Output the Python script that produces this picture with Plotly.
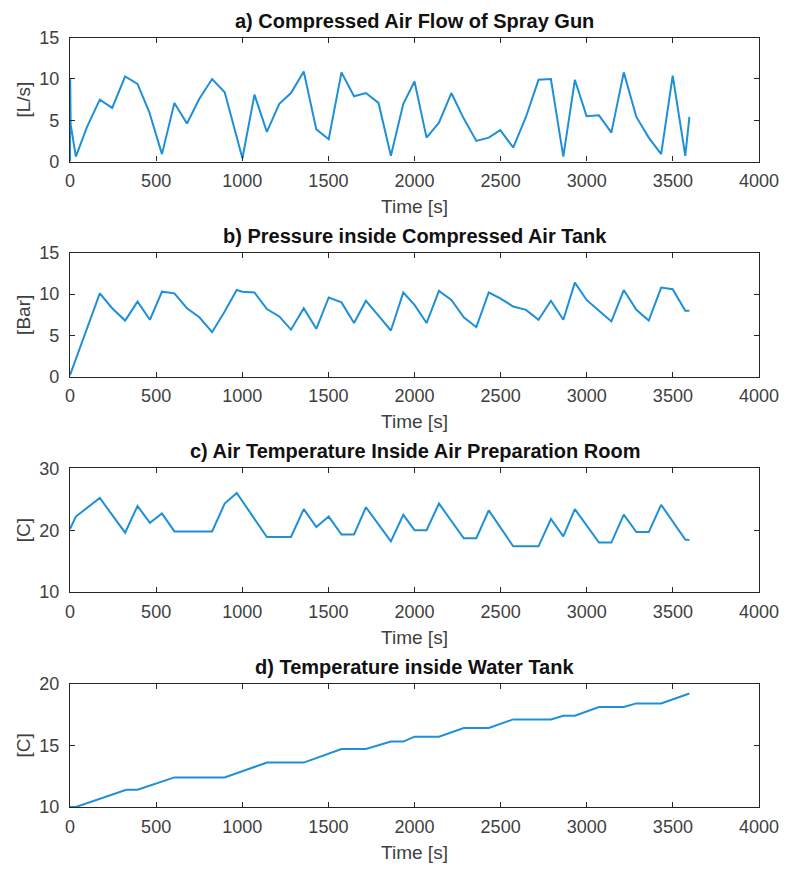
import plotly.graph_objects as go

# ---- data ----
time_a = [0, 1, 4, 34, 99, 173, 245, 320, 392, 460, 534, 606, 679, 751, 825, 898, 1001,
          1071, 1143, 1215, 1283, 1357, 1430, 1502, 1576, 1649, 1718, 1791, 1863, 1935,
          2000, 2070, 2142, 2214, 2286, 2359, 2431, 2498, 2573, 2647, 2720, 2792, 2864,
          2931, 2999, 3071, 3143, 3215, 3288, 3360, 3432, 3499, 3572, 3596]
air_flow = [0.0, 10.0, 4.5, 0.6, 4.2, 7.5, 6.5, 10.3, 9.4, 6.0, 0.9, 7.1, 4.6, 7.6, 10.0, 8.4, 0.4,
            8.1, 3.6, 7.0, 8.3, 10.9, 3.9, 2.7, 10.8, 7.9, 8.3, 7.1, 0.7, 7.0,
            9.7, 2.9, 4.7, 8.3, 5.2, 2.5, 2.9, 3.8, 1.7, 5.4, 9.9, 10.0, 0.6,
            9.9, 5.5, 5.6, 3.5, 10.8, 5.4, 2.9, 0.9, 10.4, 0.7, 5.4]

time_b = [0, 87, 173, 245, 320, 392, 464, 534, 606, 679, 751, 825, 898, 968, 1001,
          1071, 1143, 1215, 1283, 1357, 1430, 1502, 1576, 1649, 1718, 1791, 1863, 1935,
          2000, 2070, 2142, 2214, 2286, 2359, 2431, 2498, 2573, 2647, 2720, 2792, 2864,
          2931, 2999, 3071, 3143, 3215, 3288, 3360, 3432, 3499, 3572, 3596]
pressure = [0.2, 5.1, 10.1, 8.3, 6.8, 9.1, 6.9, 10.3, 10.1, 8.3, 7.2, 5.4, 7.9, 10.5, 10.3,
            10.2, 8.2, 7.3, 5.7, 8.3, 5.8, 9.6, 9.0, 6.5, 9.2, 7.4, 5.6, 10.2,
            8.7, 6.5, 10.4, 9.3, 7.2, 6.0, 10.2, 9.5, 8.5, 8.1, 6.9, 9.2, 6.9,
            11.4, 9.3, 8.0, 6.7, 10.5, 8.1, 6.8, 10.8, 10.6, 8.0, 8.0]

time_c = [0, 34, 173, 320, 392, 464, 534, 606, 825, 898, 968, 1143, 1283, 1357, 1430,
          1502, 1576, 1649, 1718, 1863, 1935, 2000, 2070, 2142, 2286, 2359, 2431, 2573,
          2720, 2792, 2864, 2931, 3071, 3143, 3215, 3288, 3360, 3432, 3572, 3596]
air_temp = [20.2, 22.2, 25.2, 19.6, 23.9, 21.2, 22.7, 19.8, 19.8, 24.3, 26.0, 18.9, 18.9, 23.4, 20.5,
            22.2, 19.3, 19.3, 23.7, 18.2, 22.5, 20.0, 20.0, 24.3, 18.7, 18.7, 23.2, 17.4,
            17.4, 21.8, 19.0, 23.4, 18.0, 18.0, 22.5, 19.7, 19.7, 24.1, 18.5, 18.4]

time_d = [0, 34, 327, 392, 606, 898, 1143, 1357, 1576, 1718, 1863, 1935, 2000, 2142,
          2286, 2431, 2573, 2792, 2864, 2931, 3071, 3215, 3288, 3432, 3596]
water_temp = [10.0, 10.0, 11.4, 11.4, 12.4, 12.4, 13.6, 13.6, 14.7, 14.7, 15.3, 15.3, 15.7, 15.7,
              16.4, 16.4, 17.1, 17.1, 17.4, 17.4, 18.1, 18.1, 18.4, 18.4, 19.2]

titles = ["a) Compressed Air Flow of Spray Gun",
          "b) Pressure inside Compressed Air Tank",
          "c) Air Temperature Inside Air Preparation Room",
          "d) Temperature inside Water Tank"]
y_labels = ["[L/s]", "[Bar]", "[C]", "[C]"]
y_ranges = [[0, 15], [0, 15], [10, 30], [10, 20]]
y_dticks = [5, 5, 10, 5]
x_ticks = [0, 500, 1000, 1500, 2000, 2500, 3000, 3500, 4000]

series = [(time_a, air_flow), (time_b, pressure), (time_c, air_temp), (time_d, water_temp)]

# ---- layout geometry (body margin removed below) ----
W, H = 791, 871
m_l, m_r, m_t, m_b = 70, 22, 37, 60
plot_h = H - m_t - m_b
panel_tops = [37.7, 254.0, 470.5, 687.0]
panel_h = 124.5

line_color = "#1E90D8"
axis_color = "#262626"
text_gray = "#404040"
font_family = "Liberation Sans, Arial, Helvetica, sans-serif"

fig = go.Figure()
annotations = []
for i, ((xs, ys), title, ylab, yr, dt) in enumerate(zip(series, titles, y_labels, y_ranges, y_dticks)):
    top = 1 - (panel_tops[i] - m_t) / plot_h
    bot = 1 - (panel_tops[i] + panel_h - m_t) / plot_h
    top = min(top, 1.0)
    bot = max(bot, 0.0)
    sfx = "" if i == 0 else str(i + 1)
    fig.add_trace(go.Scatter(x=xs, y=ys, mode="lines",
                             line=dict(color=line_color, width=2),
                             xaxis="x" + sfx, yaxis="y" + sfx, showlegend=False,
                             hoverinfo="skip"))
    common = dict(showline=True, linecolor=axis_color, linewidth=1.3, mirror="ticks",
                  ticks="inside", ticklen=5, tickcolor=axis_color, tickwidth=1.3,
                  showgrid=False, zeroline=False,
                  tickfont=dict(family=font_family, size=18, color=text_gray))
    fig.update_layout(**{
        "xaxis" + sfx: dict(domain=[0, 1], range=[0, 4000], tickvals=x_ticks,
                            anchor="y" + sfx, ticklabelstandoff=3,
                            title=dict(text="Time [s]", standoff=9,
                                       font=dict(family=font_family, size=19, color=text_gray)),
                            **common),
        "yaxis" + sfx: dict(domain=[bot, top], range=yr, dtick=dt, anchor="x" + sfx,
                            ticklabelstandoff=6,
                            title=dict(text=ylab, standoff=3,
                                       font=dict(family=font_family, size=19, color=text_gray)),
                            **common),
    })
    annotations.append(dict(text="<b>" + title + "</b>", x=0.5, xref="paper",
                            y=top, yref="paper", yanchor="bottom", xanchor="center",
                            yshift=4, showarrow=False,
                            font=dict(family=font_family, size=20, color="#111111")))

fig.update_layout(width=W, height=H, margin=dict(l=m_l, r=m_r, t=m_t, b=m_b),
                  paper_bgcolor="white", plot_bgcolor="white",
                  annotations=annotations)

fig.write_html("out.html", config={"displayModeBar": False},
               post_script="document.body.style.margin='0px';document.body.style.overflow='hidden';")
